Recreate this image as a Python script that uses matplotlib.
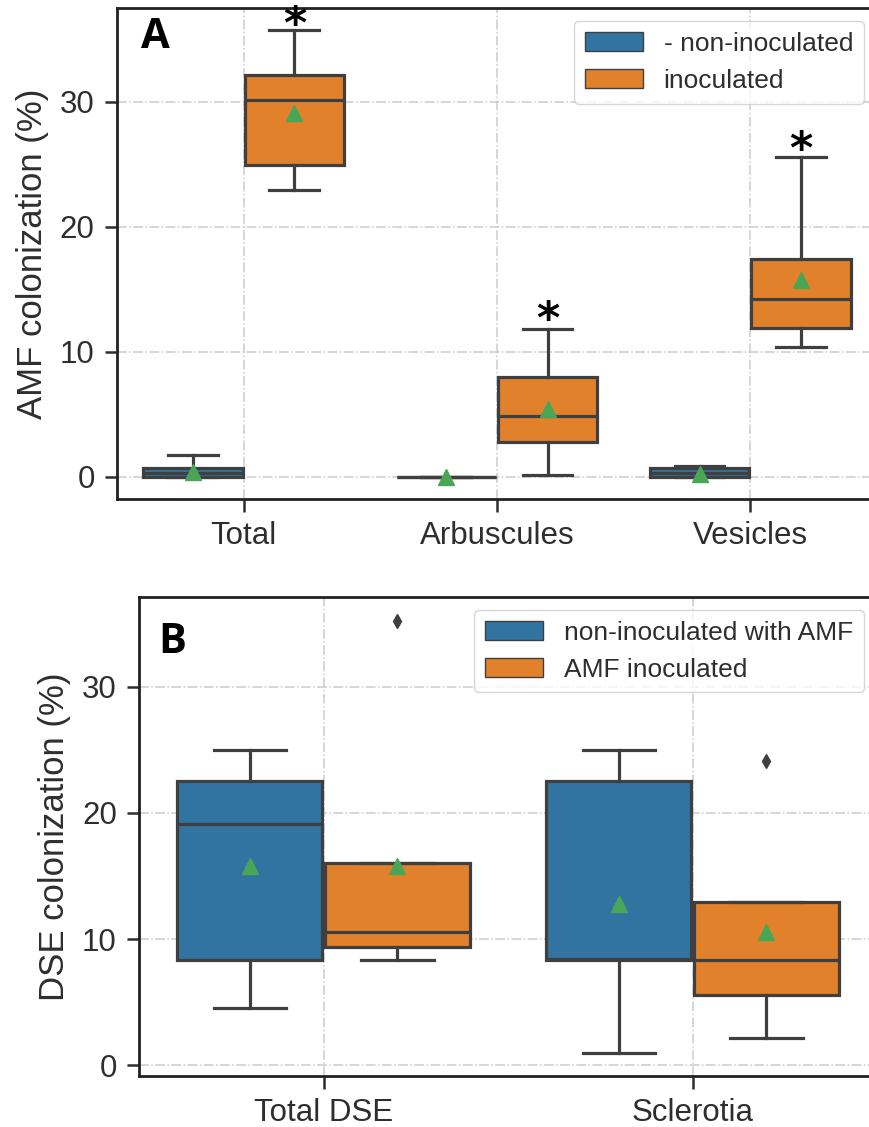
import matplotlib
matplotlib.use("Agg")
import matplotlib.pyplot as plt
from matplotlib.patches import Patch

# panel A: AMF colonization (%)
amf_cats = ["Total", "Arbuscules", "Vesicles"]
amf_labels = ["- non-inoculated", "inoculated"]
# [whislo, q1, med, q3, whishi, mean] per category, per group
amf_non = [
    [0.0, 0.0, 0.3, 0.7, 1.7, 0.4],
    [0.0, 0.0, 0.0, 0.0, 0.0, 0.0],
    [0.0, 0.0, 0.3, 0.65, 0.85, 0.2],
]
amf_inoc = [
    [22.9, 24.9, 30.1, 32.1, 35.7, 29.1],
    [0.1, 2.8, 4.85, 8.0, 11.8, 5.4],
    [10.4, 11.9, 14.2, 17.45, 25.6, 15.7],
]
amf_non_fliers = [[], [], []]
amf_inoc_fliers = [[], [], []]
amf_stars = [36.1, 12.5, 26.1]

# panel B: DSE colonization (%)
dse_cats = ["Total DSE", "Sclerotia"]
dse_labels = ["non-inoculated with AMF", "AMF inoculated"]
dse_non = [
    [4.5, 8.3, 19.1, 22.5, 25.0, 15.8],
    [0.95, 8.35, 8.4, 22.5, 25.0, 12.8],
]
dse_inoc = [
    [8.3, 9.35, 10.55, 16.05, 16.05, 15.8],
    [2.15, 5.6, 8.3, 12.95, 12.95, 10.55],
]
dse_non_fliers = [[], []]
dse_inoc_fliers = [[35.2], [24.1]]

blue = "#3274a1"
orange = "#e1812c"
line_c = "#3f3f3f"
mean_c = "#4aa657"
text_c = "#2e2e2e"

plt.rcParams["font.family"] = ["Liberation Sans", "DejaVu Sans"]


def make_stats(rows, fliers):
    out = []
    for r, f in zip(rows, fliers):
        out.append(dict(whislo=r[0], q1=r[1], med=r[2], q3=r[3], whishi=r[4],
                        mean=r[5], fliers=f))
    return out


def draw_panel(ax, cats, non, inoc, non_f, inoc_f):
    n = len(cats)
    for rows, fl, off, col in [(non, non_f, -0.2, blue), (inoc, inoc_f, 0.2, orange)]:
        ax.bxp(make_stats(rows, fl), positions=[i + off for i in range(n)],
               widths=0.392, patch_artist=True, showmeans=True, manage_ticks=False,
               boxprops=dict(facecolor=col, edgecolor=line_c, linewidth=2.3),
               medianprops=dict(color=line_c, linewidth=2.3),
               whiskerprops=dict(color=line_c, linewidth=2.3),
               capprops=dict(color=line_c, linewidth=2.3),
               capwidths=0.196,
               meanprops=dict(marker="^", markerfacecolor=mean_c, markeredgecolor=mean_c,
                              markersize=11),
               flierprops=dict(marker="d", markerfacecolor=line_c, markeredgecolor=line_c,
                               markersize=7))
    ax.set_xlim(-0.5, n - 0.5)
    ax.set_xticks(range(n))
    ax.set_xticklabels(cats)
    ax.set_yticks([0, 10, 20, 30])
    ax.grid(True, color="#cccccc", linestyle="-.", linewidth=1.1)
    ax.set_axisbelow(True)
    for s in ax.spines.values():
        s.set_color("#222222")
        s.set_linewidth(2.0)
    ax.tick_params(labelsize=22.5, colors=text_c, length=9, width=1.8, pad=7)


fig = plt.figure(figsize=(8.69, 11.27), dpi=100)

ax1 = fig.add_axes([0.1346, 0.5572, 0.8746, 0.4357])
draw_panel(ax1, amf_cats, amf_non, amf_inoc, amf_non_fliers, amf_inoc_fliers)
ax1.set_ylim(-1.8, 37.5)
ax1.set_ylabel("AMF colonization (%)", fontsize=25, color=text_c, labelpad=8)
for i, y in enumerate(amf_stars):
    ax1.text(i + 0.2, y, "*", ha="center", va="center", fontsize=32,
             fontweight="bold", color="black", family=["DejaVu Sans"])
ax1.text(0.05, 0.94, "A", transform=ax1.transAxes, fontsize=30, fontweight="bold",
         family=["Open Sans", "DejaVu Sans"], va="center", ha="center")
ax1.legend(handles=[Patch(facecolor=blue, edgecolor=line_c, label=amf_labels[0]),
                    Patch(facecolor=orange, edgecolor=line_c, label=amf_labels[1])],
           loc="upper right", fontsize=19, labelcolor=text_c, handlelength=2.2,
           borderaxespad=0.5)

ax2 = fig.add_axes([0.16, 0.0453, 0.8493, 0.4250])
draw_panel(ax2, dse_cats, dse_non, dse_inoc, dse_non_fliers, dse_inoc_fliers)
ax2.set_ylim(-0.85, 37.1)
ax2.set_ylabel("DSE colonization (%)", fontsize=25, color=text_c, labelpad=8)
ax2.text(0.045, 0.905, "B", transform=ax2.transAxes, fontsize=30, fontweight="bold",
         family=["Open Sans", "DejaVu Sans"], va="center", ha="center")
ax2.legend(handles=[Patch(facecolor=blue, edgecolor=line_c, label=dse_labels[0]),
                    Patch(facecolor=orange, edgecolor=line_c, label=dse_labels[1])],
           loc="upper right", fontsize=19, labelcolor=text_c, handlelength=2.2,
           borderaxespad=0.5)

fig.savefig("out.png", dpi=100)
